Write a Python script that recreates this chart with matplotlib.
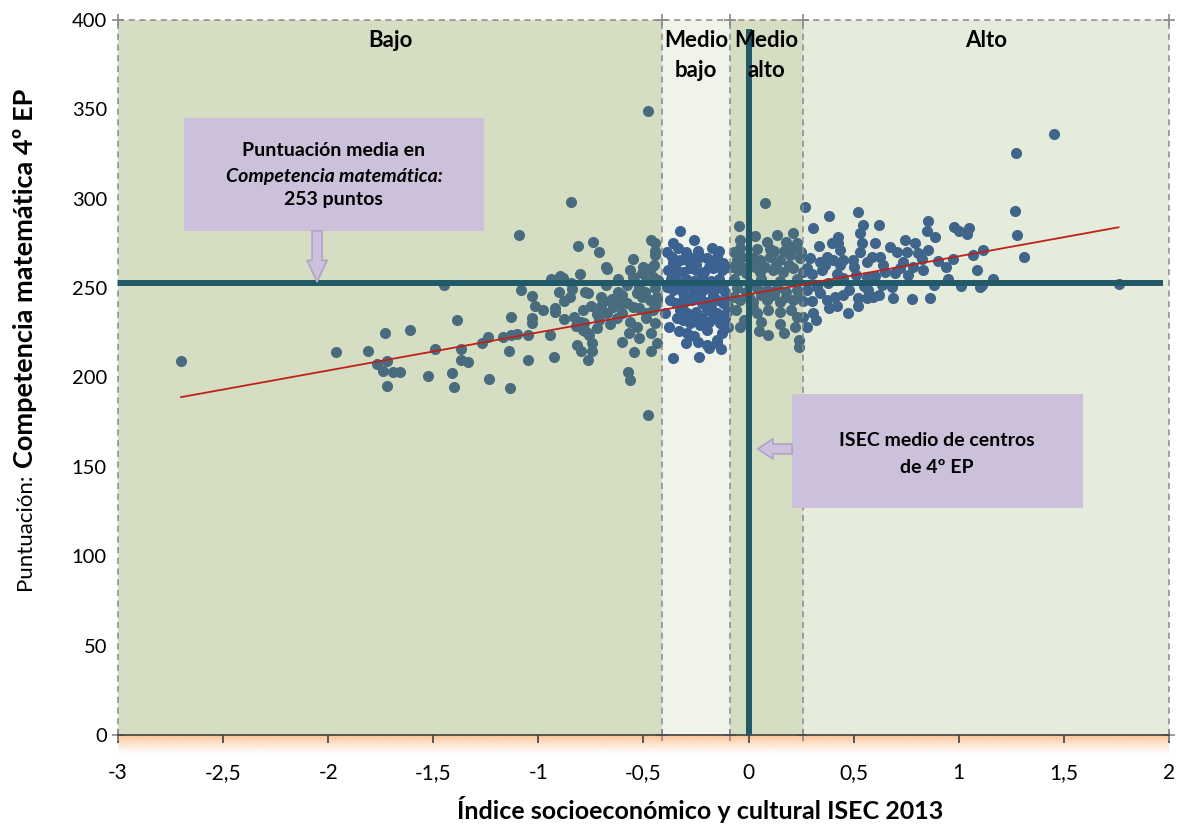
import numpy as np
import matplotlib
matplotlib.use("Agg")
import matplotlib.pyplot as plt
from matplotlib.patches import Rectangle, FancyArrowPatch, ArrowStyle

plt.rcParams['font.family'] = ['Lato', 'DejaVu Sans']

# ---- data ----
bajo_x = [-2.70, -1.965, -1.81, -1.73, -1.61, -1.77, -1.72, -1.74, -1.69, -1.66, -1.72,
          -0.847, -1.09, -0.81, -0.74, -0.714, -0.68, -0.676, -0.80, -0.94, -0.895, -0.885,
          -0.847, -0.84, -1.447, -1.085, -1.03, -1.014, -0.98, -0.92, -0.92, -0.88, -0.776,
          -0.766, -1.13, -1.03, -1.03, -0.83, -0.82, -0.79, -0.88, -0.785, -0.79, -0.766,
          -0.72, -0.71, -0.72, -0.676, -0.647, -0.614, -0.58, -0.55, -0.52, -0.486, -0.457,
          -0.438, -0.628, -0.566, -0.533, -0.49, -0.462, -0.447, -0.57, -0.543, -0.462,
          -0.438, -0.576, -0.566, -0.48, -0.462, -0.447, -0.443, -0.443, -0.462, -0.457,
          -0.433, -0.566, -0.55, -0.505, -0.486, -0.543, -0.52, -0.495, -0.505, -0.47,
          -0.438, -0.947, -1.05, -1.05, -1.13, -1.10, -1.17, -1.24, -1.266, -1.138, -0.928,
          -1.385, -1.494, -1.366, -1.366, -1.337, -1.41, -1.40, -1.523, -1.237, -1.133,
          -0.814, -0.795, -0.747, -0.743, -0.766, -0.795, -0.78, -0.757, -0.48, -0.447,
          -0.447, -0.60, -0.65, -0.70,
          -0.62, -0.58, -0.53, -0.60, -0.66, -0.50, -0.55, -0.62, -0.70, -0.68, -0.75,
          -0.85, -0.90, -0.45, -0.52, -0.60, -0.66]
bajo_y = [209, 214, 215, 225, 226.5, 207.5, 209, 203.6, 203, 203, 195,
          298, 279.7, 273.6, 275.8, 270, 262, 260.7, 258, 255, 257, 255.7,
          253, 249.5, 251.7, 249, 245.6, 240, 238, 239, 236.6, 242.8, 248,
          247, 234, 233, 230.5, 234, 229, 237.8, 232.7, 230.5, 226.6, 225,
          235.5, 232, 227.7, 236, 239.5, 241, 241.7, 239.5, 239, 236, 237.8,
          243.4, 233, 231, 228, 233.5, 225, 230.5, 225, 214, 214.8,
          219, 203, 198.6, 179, 277, 275, 271, 268.5, 261, 256,
          254.5, 260, 256, 258.5, 256, 254.5, 250.6, 247.8, 245, 243.4,
          245, 223.8, 224, 210, 223.8, 224.3, 222.7, 222.7, 219.3, 214.8, 211.5,
          232, 216, 216, 209.8, 208.7, 202.5, 194.7, 200.8, 199, 194,
          218, 214.8, 219, 214.8, 210, 231, 226, 224, 349, 250,
          240, 246, 244, 240,
          248, 252, 247, 236, 243, 262, 266, 255, 245, 252, 240,
          245, 248, 263, 222, 220, 230]

medio_bajo_x = [-0.324, -0.262, -0.338,
                -0.366, -0.362, -0.328, -0.295, -0.267, -0.233, -0.20, -0.176, -0.152, -0.124,
                -0.385, -0.343, -0.314, -0.28, -0.248, -0.21, -0.17, -0.128, -0.105,
                -0.39, -0.362, -0.328, -0.29, -0.257, -0.219, -0.186, -0.148, -0.114,
                -0.376, -0.343, -0.305, -0.267, -0.224, -0.195, -0.152, -0.124,
                -0.328, -0.295, -0.248, -0.20, -0.152, -0.105,
                -0.314, -0.28, -0.233, -0.186, -0.138,
                -0.295, -0.20, -0.152, -0.128, -0.20, -0.186, -0.15,
                -0.362, -0.238, -0.35, -0.30, -0.26, -0.22, -0.18, -0.14,
                -0.39, -0.40, -0.38, -0.33, -0.26, -0.10, -0.11,
                -0.37, -0.31, -0.27, -0.23, -0.17, -0.12, -0.34, -0.27, -0.22, -0.17, -0.11,
                -0.36, -0.30, -0.24, -0.19, -0.14, -0.30, -0.24, -0.13, -0.35, -0.25, -0.16,
                -0.31, -0.18, -0.10]
medio_bajo_y = [282, 277, 272.4,
                267.4, 264, 265.7, 265.7, 267, 267.4, 267, 272.4, 267.4, 264,
                260, 258.5, 259, 261, 260, 259, 261, 260, 262,
                250.6, 249, 250, 251.7, 250, 249, 250.6, 250, 247.8,
                243.4, 241.7, 244.5, 243.4, 241.7, 242.2, 243.4, 241.7,
                237.8, 236, 236.6, 237.8, 236, 236.6,
                232, 230.5, 229.4, 231, 230.5,
                225, 226.6, 221, 225, 218, 216.5, 219.5,
                211, 211.5, 255, 255, 254, 256, 254, 255,
                270, 236, 228, 226, 223, 228, 243,
                255, 247, 246, 245, 246, 252, 233, 233, 233, 233, 233,
                275, 270, 271, 262, 271, 219, 220, 216, 262, 263, 264,
                241, 239, 240]

medio_alto_x = [-0.048, 0.076, 0.029, 0.086, 0.133, 0.18, 0.21, 0.228, -0.043, -0.043,
                -0.057, -0.029, 0.019, 0.052, 0.10, 0.148, 0.195, 0.243,
                -0.052, -0.01, 0.052, 0.114, 0.162, 0.21, 0.257,
                -0.057, -0.01, 0.038, 0.086, 0.133, 0.18, 0.228,
                -0.043, 0.019, 0.086, 0.148, 0.21,
                0.038, 0.148, 0.228,
                -0.043, 0.09, 0.24, 0.24,
                0.10, 0.17, -0.07, 0.06, 0.15, 0.23,
                -0.08, -0.03, 0.03, 0.08, 0.13, 0.19, -0.07, 0.00, 0.06, 0.12, 0.18, 0.24,
                -0.06, 0.02, 0.09, 0.20, -0.07, 0.04, 0.12, 0.20, -0.02, 0.06, 0.15, 0.22,
                0.05, 0.17, 0.25, 0.00]
medio_alto_y = [285, 297.6, 279, 275.8, 279.7, 275.8, 280.8, 275, 277, 272.4,
                265.7, 267.4, 267, 265.7, 267.4, 265.7, 268.5, 267,
                260, 258.5, 259, 260, 259, 261, 259,
                250, 247.8, 250, 249, 250, 247.8, 249,
                243.4, 242.2, 243.4, 242.2, 243.4,
                236, 236.6, 233.8,
                228, 224, 221, 217,
                272, 271, 255, 255, 254, 255,
                262, 262, 262, 262, 263, 263, 245, 245, 246, 246, 245, 245,
                238, 239, 238, 238, 270, 272, 271, 272, 232, 231, 230, 228,
                226, 225, 270, 253]

alto_x = [0.27, 0.381, 0.519, 0.305, 0.543, 0.528, 0.619, 0.852, 0.847, 0.885, 0.976, 1.00,
          1.05, 1.037, 0.424, 0.395, 0.424, 0.433, 0.333,
          0.538, 0.528, 0.60, 0.671, 0.743, 0.79, 0.752, 0.704,
          0.804, 0.852, 0.823, 1.114, 1.066, 0.971, 0.938, 1.085, 0.828,
          0.733, 0.638, 0.585, 0.623, 0.562, 0.495, 0.447, 0.40, 0.371, 0.338, 0.29, 0.28,
          0.362, 0.433,
          0.695, 0.757, 0.633, 0.68, 0.509, 0.562, 0.447, 0.376, 0.324, 0.276,
          1.009, 1.10, 1.161,
          0.685, 0.776, 0.862, 0.519, 0.562, 0.59, 0.566,
          0.409, 0.447, 0.371, 0.381, 0.471, 0.305, 0.257, 0.257,
          1.452, 1.27, 1.266, 1.276, 1.309, 1.109, 1.761,
          0.30, 0.35, 0.42, 0.50, 0.55, 0.60, 0.65, 0.72, 0.30, 0.34, 0.48, 0.52, 0.62,
          0.42, 0.28, 0.32, 0.78, 0.90, 0.95, 0.88]
alto_y = [295.4, 290.4, 292.6, 283.6, 285.3, 280.8, 285.3, 287.6, 282, 278.6, 284.2, 282,
          283.6, 280.3, 278.6, 275.2, 275.2, 271.3, 273.6,
          275.2, 270.2, 275.2, 273, 277, 275.2, 270.2, 270.2,
          269.6, 271.3, 266.3, 271.3, 268.5, 266.3, 261.8, 260, 260,
          264.6, 263, 267.4, 267.4, 264.6, 265.7, 265.7, 265.7, 267.4, 264.6, 267, 261,
          263, 263,
          258.5, 257.4, 251.7, 250.6, 257.4, 256.3, 255.7, 252.8, 250.6, 249,
          251.2, 250.6, 255.1,
          244.5, 243.9, 244.5, 244.5, 244.5, 245, 249,
          245, 246.2, 243.4, 238.9, 236, 236, 243, 234,
          336.2, 325.6, 293.1, 279.7, 267.4, 251.7, 252.3,
          258, 260, 258, 262, 251, 257, 259, 261, 243, 247, 249, 240, 246,
          240, 228, 232, 262, 265, 255, 252]

# ISEC bands and their labels
band_edges = [-3, -0.41, -0.09, 0.26, 2]
band_alpha = [0.30, 0.11, 0.30, 0.175]
band_labels = [["Bajo"], ["Medio", "bajo"], ["Medio", "alto"], ["Alto"]]

mean_score = 253
mean_isec = 0
trend_x = [-2.70, 1.76]
trend_y = [189, 284]

xticks = [-3, -2.5, -2, -1.5, -1, -0.5, 0, 0.5, 1, 1.5, 2]
xtick_labels = ['-3', '-2,5', '-2', '-1,5', '-1', '-0,5', '0', '0,5', '1', '1,5', '2']
yticks = [0, 50, 100, 150, 200, 250, 300, 350, 400]

# ---- figure ----
fig = plt.figure(figsize=(11.79, 8.35), dpi=100)
ax = fig.add_axes([0.1001, 0.1198, 0.8914, 0.8563])

pts_x = bajo_x + medio_bajo_x + medio_alto_x + alto_x
pts_y = bajo_y + medio_bajo_y + medio_alto_y + alto_y
ax.scatter(pts_x, pts_y, s=64, color='#355c9d', linewidths=0, zorder=2)

olive = '#769439'
for i in range(4):
    ax.axvspan(band_edges[i], band_edges[i + 1], color=olive, alpha=band_alpha[i], lw=0, zorder=3)
    xc = (band_edges[i] + band_edges[i + 1]) / 2
    for j, line in enumerate(band_labels[i]):
        ax.text(xc, 385 - 17 * j, line, ha='center', va='baseline', fontsize=16,
                fontweight='bold', color='black', zorder=9)

ax.vlines(band_edges, 0, 400, colors='#8a8a8a', linestyles=(0, (4, 3)), lw=1.1, zorder=4, clip_on=False)
ax.hlines(400, -3, 2, colors='#8a8a8a', linestyles=(0, (4, 3)), lw=1.1, zorder=4, clip_on=False)
ax.plot(band_edges, [400] * 5, '+', color='#8a8a8a', ms=9, mew=1.2, clip_on=False, zorder=4)
ax.plot(band_edges, [0] * 5, '+', color='#8a8a8a', ms=9, mew=1.2, clip_on=False, zorder=4)

# mean lines and trend
ax.plot([-3, 1.97], [mean_score, mean_score], color='#215968', lw=4.3, zorder=6, solid_capstyle='butt')
ax.plot([mean_isec, mean_isec], [0, 395], color='#215968', lw=4.3, zorder=6, solid_capstyle='butt')
ax.plot(trend_x, trend_y, color='#c0201a', lw=1.3, zorder=7)

# annotation boxes
box_fc = '#ccc0da'
box_ec = '#b3a2c7'
ax.add_patch(Rectangle((-2.684, 282), 1.423, 63.2, fc=box_fc, ec='none', zorder=8))
ax.add_patch(Rectangle((0.205, 127), 1.385, 63.8, fc=box_fc, ec='none', zorder=8))
arrow_style = ArrowStyle.Simple(head_length=15.5, head_width=14.5, tail_width=7.2)
ax.add_patch(FancyArrowPatch((-2.053, 282), (-2.053, 253.5), arrowstyle=arrow_style,
                             mutation_scale=1, fc=box_fc, ec=box_ec, lw=1.2,
                             shrinkA=0, shrinkB=0, zorder=8))
ax.add_patch(FancyArrowPatch((0.207, 160), (0.043, 160), arrowstyle=ArrowStyle.Simple(
                             head_length=11, head_width=14.5, tail_width=7.2),
                             mutation_scale=1, fc=box_fc, ec=box_ec, lw=1.2,
                             shrinkA=0, shrinkB=0, zorder=8))

ax.text(-1.973, 326.7, "Puntuación media en", ha='center', va='center', fontsize=14,
        fontweight='bold', zorder=9)
ax.text(-1.973, 312.7, "Competencia matemática:", ha='center', va='center', fontsize=14,
        fontweight='bold', style='italic', zorder=9)
ax.text(-1.973, 299.3, "253 puntos", ha='center', va='center', fontsize=14,
        fontweight='bold', zorder=9)
ax.text(0.897, 164.5, "ISEC medio de centros", ha='center', va='center', fontsize=14,
        fontweight='bold', zorder=9)
ax.text(0.897, 149.4, "de 4º EP", ha='center', va='center', fontsize=14,
        fontweight='bold', zorder=9)

# peach glow under the x axis
glow = np.zeros((24, 2, 4))
glow[..., 0] = 251 / 255
glow[..., 1] = 192 / 255
glow[..., 2] = 145 / 255
glow[..., 3] = np.linspace(0.95, 0, 24)[:, None] ** 1.3
ax.imshow(glow, extent=(-3, 2, -11, 0), aspect='auto', clip_on=False, zorder=1,
          interpolation='bilinear')

ax.set_xlim(-3, 2)
ax.set_ylim(0, 400)
ax.set_xticks(xticks)
ax.set_xticklabels(xtick_labels)
ax.set_yticks(yticks)
ax.tick_params(axis='x', direction='out', length=6, width=1.2, color='#404040',
               labelsize=15, pad=14, labelcolor='black')
ax.tick_params(axis='y', length=0, labelsize=14.5, pad=8, labelcolor='black')
for side in ['top', 'right', 'left']:
    ax.spines[side].set_visible(False)
ax.spines['bottom'].set_color('#404040')
ax.spines['bottom'].set_linewidth(1.2)
ax.spines['bottom'].set_zorder(5)

fig.text(0.594, 0.031, "Índice socioeconómico y cultural ISEC 2013", ha='center',
         va='center', fontsize=18, fontweight='bold')

t1 = fig.text(0.0212, 0.2934, "Puntuación:", rotation=90, ha='center', va='bottom', fontsize=16)
fig.canvas.draw()
bb = t1.get_window_extent()
fig.text(0.0212, (bb.y1 + 6) / fig.bbox.height, "Competencia matemática 4º EP", rotation=90,
         ha='center', va='bottom', fontsize=19.5, fontweight='bold')

fig.savefig("out.png", dpi=100)
